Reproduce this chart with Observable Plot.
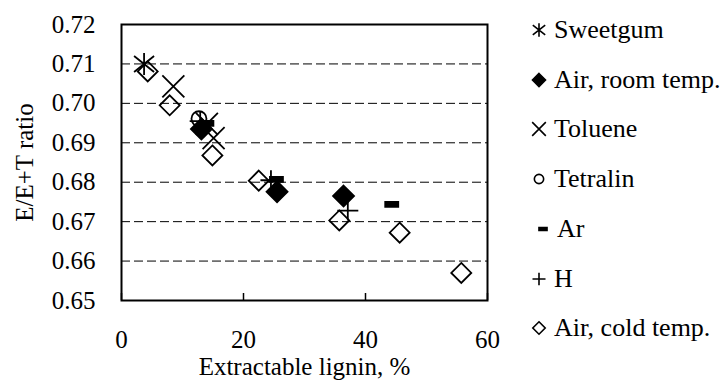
<!DOCTYPE html>
<html>
<head>
<meta charset="utf-8">
<script src="https://cdn.jsdelivr.net/npm/d3@7"></script>
<script src="https://cdn.jsdelivr.net/npm/@observablehq/plot@0.6"></script>
<style>
  html, body { margin: 0; padding: 0; background: #fff; font-family: 'Liberation Serif'; }
  #wrap { position: relative; width: 721px; height: 382px; overflow: hidden; font-family: 'Liberation Serif'; }
  #legend { position: absolute; left: 0; top: 0; }
  .row { position: absolute; height: 26px; display: flex; align-items: center; font-size: 26px; color: #000; white-space: nowrap; font-family: 'Liberation Serif'; }
  .row svg { overflow: visible; }
</style>
</head>
<body>
<div id="wrap"></div>
<script>
// ---- data ----
const seriesNames = ["Sweetgum", "Air, room temp.", "Toluene", "Tetralin", "Ar", "H", "Air, cold temp."];

const sweetgumX = [3.7];
const sweetgumY = [0.7100];

const airRoomX = [13.1, 25.5, 36.4];
const airRoomY = [0.6935, 0.6776, 0.6765];

const tolueneX = [8.5, 14.0, 15.1];
const tolueneY = [0.7043, 0.6948, 0.6912];

const tetralinX = [12.7];
const tetralinY = [0.6961];

const arX = [14.0, 25.4, 44.3];
const arY = [0.6949, 0.6807, 0.6744];

const hX = [12.9, 24.5, 37.1];
const hY = [0.6955, 0.6805, 0.6728];

const airColdX = [4.3, 7.9, 14.9, 22.5, 35.7, 45.6, 55.7];
const airColdY = [0.7081, 0.6995, 0.6868, 0.6804, 0.6703, 0.6672, 0.6570];

const xTicks = [0, 20, 40, 60];
const yTicks = [0.65, 0.66, 0.67, 0.68, 0.69, 0.70, 0.71, 0.72];
const gridTicks = [0.66, 0.67, 0.68, 0.69, 0.70, 0.71];

const FONT = "Liberation Serif";

// ---- marker shapes ----
function makeSymbols(s) {
  return {
    asterisk: {draw(c) { c.moveTo(0, -11*s); c.lineTo(0, 11*s); c.moveTo(-10*s, -8*s); c.lineTo(10*s, 8*s); c.moveTo(-10*s, 8*s); c.lineTo(10*s, -8*s); }},
    diamond: {draw(c) { c.moveTo(0, -10.5*s); c.lineTo(10.5*s, 0); c.lineTo(0, 10.5*s); c.lineTo(-10.5*s, 0); c.closePath(); }},
    times: {draw(c) { c.moveTo(-11*s, -11*s); c.lineTo(11*s, 11*s); c.moveTo(-11*s, 11*s); c.lineTo(11*s, -11*s); }},
    circle: {draw(c) { c.moveTo(7.5*s, 0); c.arc(0, 0, 7.5*s, 0, 2*Math.PI); c.closePath(); }},
    dash: {draw(c) { c.rect(-6.5*s, -2.5*s, 13*s, 5*s); c.closePath(); }},
    plus: {draw(c) { c.moveTo(-10.5*s, 0); c.lineTo(10.5*s, 0); c.moveTo(0, -10*s); c.lineTo(0, 10*s); }},
    odiamond: {draw(c) { c.moveTo(0, -10*s); c.lineTo(10*s, 0); c.lineTo(0, 10*s); c.lineTo(-10*s, 0); c.closePath(); }}
  };
}
const S = makeSymbols(1);

const seriesDefs = [
  {xs: sweetgumX, ys: sweetgumY, sym: "asterisk", fill: "none"},
  {xs: airRoomX, ys: airRoomY, sym: "diamond", fill: "#000"},
  {xs: tolueneX, ys: tolueneY, sym: "times", fill: "none"},
  {xs: tetralinX, ys: tetralinY, sym: "circle", fill: "none"},
  {xs: arX, ys: arY, sym: "dash", fill: "#000"},
  {xs: hX, ys: hY, sym: "plus", fill: "none"},
  {xs: airColdX, ys: airColdY, sym: "odiamond", fill: "none"}
];

const dotMarks = seriesDefs.map(d =>
  Plot.dot(d.xs.map((x, i) => ({x, y: d.ys[i]})), {
    x: "x", y: "y", symbol: S[d.sym], r: 5,
    stroke: "#000", strokeWidth: 1.8, fill: d.fill
  })
);

const chart = Plot.plot({
  width: 721,
  height: 382,
  marginLeft: 121,
  marginRight: 234,
  marginTop: 24,
  marginBottom: 82,
  style: {fontFamily: FONT, fontSize: "25px", color: "#000", background: "#fff", overflow: "visible"},
  x: {domain: [0, 60]},
  y: {domain: [0.65, 0.72]},
  marks: [
    Plot.ruleY(gridTicks, {stroke: "#000", strokeWidth: 1, strokeDasharray: "9,4"}),
    Plot.axisX(xTicks, {tickSize: 7, dy: -7, fill: "none", label: null, strokeWidth: 1.5}),
    Plot.axisX(xTicks, {tickSize: 0, tickPadding: 30, tickFormat: d3.format("d"), label: null, fontSize: 25, fontFamily: FONT}),
    Plot.axisY(yTicks, {tickSize: 0, tickPadding: 26, tickFormat: d3.format(".2f"), label: null, fontSize: 25, fontFamily: FONT}),
    Plot.frame({stroke: "#000", strokeWidth: 2}),
    ...dotMarks,
    Plot.text(["Extractable lignin, %"], {text: d => d, frameAnchor: "bottom", textAnchor: "middle", dy: 74, fontSize: 25, fontFamily: FONT}),
    Plot.text(["E/E+T ratio"], {text: d => d, frameAnchor: "left", textAnchor: "middle", dx: -97, rotate: -90, fontSize: 25, fontFamily: FONT})
  ]
});

const wrap = document.getElementById("wrap");
wrap.appendChild(chart);

// ---- legend ----
const L = makeSymbols(0.62);
const legend = document.createElement("div");
legend.id = "legend";
const rowY0 = 30, rowStep = 49.7;
seriesDefs.forEach((d, i) => {
  const row = document.createElement("div");
  row.className = "row";
  row.style.left = "527px";
  row.style.top = (rowY0 + i * rowStep - 13) + "px";
  const p = d3.path();
  L[d.sym].draw(p);
  const svg = d3.create("svg").attr("width", 24).attr("height", 26);
  svg.append("path")
    .attr("transform", `translate(${d.sym === "dash" ? 16 : 12},13)`)
    .attr("d", p.toString())
    .attr("fill", d.fill).attr("stroke", "#000").attr("stroke-width", 1.6);
  row.appendChild(svg.node());
  const span = document.createElement("span");
  span.textContent = seriesNames[i];
  span.style.marginLeft = d.sym === "dash" ? "6px" : "3px";
  row.appendChild(span);
  legend.appendChild(row);
});
wrap.appendChild(legend);
</script>
</body>
</html>
